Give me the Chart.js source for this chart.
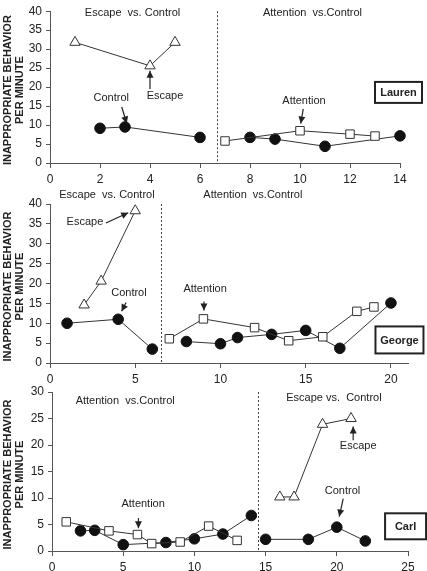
<!DOCTYPE html>
<html>
<head>
<meta charset="utf-8">
<script src="https://cdn.jsdelivr.net/npm/chart.js@4"></script>
<style>
body{margin:0;background:#fff;width:427px;height:571px;overflow:hidden;position:relative}
canvas{position:absolute;left:0}
</style>
</head>
<body>
<canvas id="c1" style="top:0px" width="427" height="190"></canvas>
<canvas id="c2" style="top:190px" width="427" height="200"></canvas>
<canvas id="c3" style="top:380px" width="427" height="191"></canvas>
<script>
// Lauren
var laurenEscX=[1,4,5], laurenEscY=[31.8,25.6,31.8]
var laurenCtrlAX=[2,3,6], laurenCtrlAY=[9.15,9.5,6.75]
var laurenAttX=[7,10,12,13], laurenAttY=[5.8,8.5,7.6,7.1]
var laurenCtrlBX=[8,9,11,14], laurenCtrlBY=[6.75,6.3,4.4,7.15]
// George
var georgeEscX=[2,3,5], georgeEscY=[14.6,20.6,38.3]
var georgeCtrlAX=[1,4,6], georgeCtrlAY=[10,11,3.5]
var georgeAttX=[7,9,12,14,16,18,19], georgeAttY=[6.1,11.1,8.9,5.6,6.6,13,14.1]
var georgeCtrlBX=[8,10,11,13,15,17,20], georgeCtrlBY=[5.4,4.85,6.4,7.2,8.2,3.7,15.1]
// Carl
var carlAttX=[1,4,6,7,9,11,13], carlAttY=[5.5,3.8,3.1,1.4,1.7,4.7,2.0]
var carlCtrlAX=[2,3,5,8,10,12,14], carlCtrlAY=[3.8,3.9,1.2,1.6,2.3,3.2,6.7]
var carlCtrlBX=[15,18,20,22], carlCtrlBY=[2.2,2.2,4.5,1.9]
var carlEscX=[16,17,19,21], carlEscY=[10.2,10.2,23.9,25]

var FONT='"Liberation Sans", Arial, sans-serif'

function pts(xs,ys){
    var out=[]
    for(var i=0;i<xs.length;i++) out.push({x:xs[i],y:ys[i]})
    return out
}
function ds(xs,ys,kind){
    var d={data:pts(xs,ys),showLine:true,clip:false,borderColor:'#333',borderWidth:1,
        pointBorderColor:'#333',pointBorderWidth:1,pointRadius:5.5,pointHoverRadius:5.5}
    if(kind=='ctrl'){d.pointStyle='circle';d.pointBackgroundColor='#111';d.pointRadius=5.3;d.pointBorderColor='#111'}
    if(kind=='att'){d.pointStyle='rect';d.pointBackgroundColor='#fff';d.pointRadius=6}
    if(kind=='esc'){d.pointStyle='triangle';d.pointBackgroundColor='#fff';d.pointRadius=6}
    return d
}

function arrow(ctx,x1,y1,x2,y2){
    var a=Math.atan2(y2-y1,x2-x1)
    ctx.beginPath();ctx.moveTo(x1,y1);ctx.lineTo(x2,y2);ctx.stroke()
    ctx.beginPath()
    ctx.moveTo(x2,y2)
    ctx.lineTo(x2-7*Math.cos(a)+3.5*Math.sin(a),y2-7*Math.sin(a)-3.5*Math.cos(a))
    ctx.lineTo(x2-7*Math.cos(a)-3.5*Math.sin(a),y2-7*Math.sin(a)+3.5*Math.cos(a))
    ctx.closePath();ctx.fill()
}

var notes={
    id:'notes',
    afterDraw:function(chart){
        var o=chart.config.options.notes
        var xs=chart.scales.x, ys=chart.scales.y, ctx=chart.ctx, ca=chart.chartArea
        ctx.save()
        // phase line
        var px=Math.round(xs.getPixelForValue(o.phase))+0.5
        ctx.strokeStyle='#444';ctx.lineWidth=1;ctx.setLineDash([2,2])
        ctx.beginPath();ctx.moveTo(px,ca.top);ctx.lineTo(px,ca.bottom);ctx.stroke()
        ctx.setLineDash([])
        // texts
        ctx.fillStyle='#222';ctx.font='11px '+FONT;ctx.textAlign='center';ctx.textBaseline='middle'
        o.texts.forEach(function(t){
            ctx.fillText(t[2],xs.getPixelForValue(t[0]),ys.getPixelForValue(t[1]))
        })
        // arrows
        ctx.strokeStyle='#222';ctx.fillStyle='#222';ctx.lineWidth=1.2
        o.arrows.forEach(function(a){
            arrow(ctx,xs.getPixelForValue(a[0]),ys.getPixelForValue(a[1]),xs.getPixelForValue(a[2]),ys.getPixelForValue(a[3]))
        })
        // name box
        var bx=xs.getPixelForValue(o.box[0]), by=ys.getPixelForValue(o.box[1])
        ctx.font='bold 11px '+FONT
        var w=o.box[3], h=o.box[4]
        ctx.fillStyle='#fff';ctx.fillRect(bx-w/2,by-h/2,w,h)
        ctx.strokeStyle='#222';ctx.lineWidth=2
        ctx.strokeRect(bx-w/2,by-h/2,w,h)
        ctx.fillStyle='#222';ctx.fillText(o.box[2],bx,by+1)
        // y title
        var cy=(ca.top+ca.bottom)/2+3
        ctx.translate(0,cy);ctx.rotate(-Math.PI/2)
        ctx.font='bold 11px '+FONT
        ctx.fillText('INAPPROPRIATE BEHAVIOR',0,8)
        ctx.fillText('PER MINUTE',0,20)
        ctx.restore()
    }
}

function makePanel(id,datasets,xmax,xstep,ymax,yw,xh,pad,notesCfg){
    var el=document.getElementById(id).getContext('2d')
    return new Chart(el,{
        type:'scatter',
        data:{datasets:datasets},
        options:{
            responsive:false,animation:false,
            layout:{padding:pad},
            plugins:{legend:{display:false},tooltip:{enabled:false}},
            notes:notesCfg,
            scales:{
                x:{type:'linear',min:0,max:xmax,
                    afterFit:function(s){s.height=xh},
                    grid:{display:true,drawOnChartArea:false,drawTicks:true,tickLength:5,color:'#555'},
                    border:{display:true,color:'#555'},
                    ticks:{stepSize:xstep,includeBounds:false,padding:4,color:'#222',font:{size:12,family:FONT},maxRotation:0}},
                y:{min:0,max:ymax,
                    afterFit:function(s){s.width=yw},
                    grid:{display:true,drawOnChartArea:false,drawTicks:true,tickLength:4,color:'#555'},
                    border:{display:true,color:'#555'},
                    ticks:{stepSize:5,padding:4,color:'#222',font:{size:12,family:FONT}}}
            }
        },
        plugins:[notes]
    })
}

makePanel('c1',[
    ds(laurenEscX,laurenEscY,'esc'),ds(laurenCtrlAX,laurenCtrlAY,'ctrl'),
    ds(laurenAttX,laurenAttY,'att'),ds(laurenCtrlBX,laurenCtrlBY,'ctrl')
],14,2,40,50,27,{top:3,right:27,left:0,bottom:0},{
    phase:6.67,
    texts:[[3.3,39.5,'Escape  vs. Control'],[10.5,39.5,'Attention  vs.Control'],
        [2.45,17.25,'Control'],[4.6,17.75,'Escape'],[10.16,16.25,'Attention']],
    arrows:[[2.87,14.75,3.07,10.4],[4,19.5,4,24.3],[10.13,14.25,10.03,10.4]],
    box:[13.94,18.6,'Lauren',47,21]
})

makePanel('c2',[
    ds(georgeEscX,georgeEscY,'esc'),ds(georgeCtrlAX,georgeCtrlAY,'ctrl'),
    ds(georgeAttX,georgeAttY,'att'),ds(georgeCtrlBX,georgeCtrlBY,'ctrl')
],21,5,40,50,27,{top:14,right:19,left:0,bottom:0},{
    phase:6.5,
    texts:[[3.34,42.3,'Escape  vs. Control'],[11.9,42.3,'Attention  vs.Control'],
        [2.05,35.5,'Escape'],[4.63,17.7,'Control'],[9.1,18.7,'Attention']],
    arrows:[[3.28,35.2,4.59,37.8],[4.46,15.2,4.2,13.0],[9.03,15.5,9.03,13.2]],
    box:[20.5,5.8,'George',48,27]
})

makePanel('c3',[
    ds(carlAttX,carlAttY,'att'),ds(carlCtrlAX,carlCtrlAY,'ctrl'),
    ds(carlCtrlBX,carlCtrlBY,'ctrl'),ds(carlEscX,carlEscY,'esc')
],25,5,30,52,20,{top:12,right:19,left:0,bottom:0},{
    phase:14.5,
    texts:[[5.14,28.4,'Attention  vs.Control'],[19.8,28.8,'Escape vs.  Control'],
        [6.4,8.8,'Attention'],[21.5,19.75,'Escape'],[20.4,11.3,'Control']],
    arrows:[[6.07,6.2,6.07,4.3],[21.15,20.9,21.15,23.5],[20.45,9.9,20.17,6.5]],
    box:[24.83,4.66,'Carl',41,26]
})
</script>
</body>
</html>
